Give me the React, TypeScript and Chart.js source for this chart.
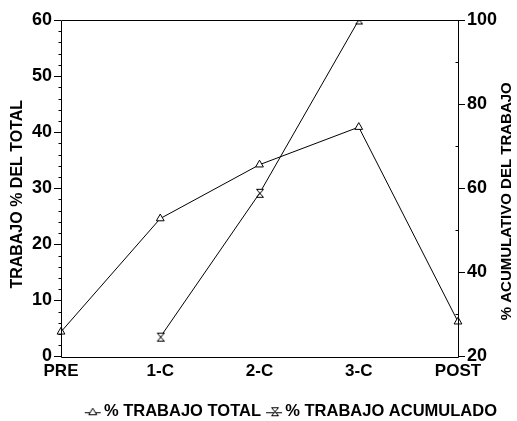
import React, { useEffect, useRef } from "react";
import { Chart, registerables } from "chart.js";

Chart.register(...registerables);

const categories = ["PRE", "1-C", "2-C", "3-C", "POST"];
const trabajoTotal = [4.4, 24.6, 34.2, 40.9, 6.2];
const trabajoAcumulado = [null, 24.6, 58.8, 100, null];
const seriesLabels = ["% TRABAJO TOTAL", "% TRABAJO ACUMULADO"];
const leftTitle = "TRABAJO % DEL TOTAL";
const rightTitle = "% ACUMULATIVO DEL TRABAJO";
const leftRange = { min: 0, max: 60, step: 10, minor: 2 };
const rightRange = { min: 20, max: 100, step: 20, minor: 10 };

const FONT = "'Liberation Sans', Arial, Helvetica, sans-serif";
const ICON_W = 24;
const ICON_X0 = 6;
const ICON_LEN = 16;

function makeHourglass(w: number, h: number, withLine: boolean) {
  const c = document.createElement("canvas");
  const W = withLine ? ICON_W : w + 2;
  const H = h + 2;
  c.width = W;
  c.height = H;
  const ctx = c.getContext("2d")!;
  ctx.strokeStyle = "#000";
  ctx.lineWidth = 1;
  const cx = withLine ? ICON_X0 + ICON_LEN / 2 : W / 2;
  if (withLine) {
    ctx.beginPath();
    ctx.moveTo(ICON_X0, Math.round(H / 2) + 0.5);
    ctx.lineTo(ICON_X0 + ICON_LEN, Math.round(H / 2) + 0.5);
    ctx.stroke();
  }
  const x0 = Math.round(cx - w / 2) + 0.5;
  const x1 = x0 + w;
  ctx.fillStyle = "#fff";
  ctx.beginPath();
  ctx.moveTo(x0, 1.5);
  ctx.lineTo(x1, 1.5);
  ctx.lineTo(x0, h + 0.5);
  ctx.lineTo(x1, h + 0.5);
  ctx.closePath();
  ctx.fill();
  ctx.stroke();
  return c;
}

function makeTriangleIcon(w: number, h: number) {
  const c = document.createElement("canvas");
  c.width = ICON_W;
  c.height = h + 2;
  const ctx = c.getContext("2d")!;
  ctx.strokeStyle = "#000";
  ctx.lineWidth = 1;
  const H = h + 2;
  ctx.beginPath();
  ctx.moveTo(ICON_X0, Math.round(H / 2) + 0.5);
  ctx.lineTo(ICON_X0 + ICON_LEN, Math.round(H / 2) + 0.5);
  ctx.stroke();
  const cx = ICON_X0 + ICON_LEN / 2;
  ctx.fillStyle = "#fff";
  ctx.beginPath();
  ctx.moveTo(cx, 1);
  ctx.lineTo(cx + w / 2, h + 0.5);
  ctx.lineTo(cx - w / 2, h + 0.5);
  ctx.closePath();
  ctx.fill();
  ctx.stroke();
  return c;
}

function drawVerticalTitle(ctx: any, text: string, x: number, y: number, size: number) {
  ctx.save();
  ctx.fillStyle = "#000";
  ctx.font = `bold ${size}px ${FONT}`;
  ctx.textAlign = "center";
  ctx.textBaseline = "middle";
  ctx.translate(x, y);
  ctx.rotate(-Math.PI / 2);
  ctx.fillText(text, 0, 0);
  ctx.restore();
}

const framePlugin = {
  id: "frameAndMinor",
  afterLayout(chart: any) {
    const lg = chart.legend;
    if (lg) {
      lg.left -= 14;
      lg.right -= 14;
      lg.top += 9;
      lg.bottom += 9;
    }
  },
  afterDraw(chart: any) {
    const { ctx, chartArea } = chart;
    const L = Math.round(chartArea.left) + 0.5;
    const R = Math.round(chartArea.right) + 0.5;
    const T = Math.round(chartArea.top) + 0.5;
    const B = Math.round(chartArea.bottom) + 0.5;
    ctx.save();
    ctx.strokeStyle = "#000";
    ctx.lineWidth = 1;
    ctx.beginPath();
    ctx.rect(L, T, R - L, B - T);
    ctx.stroke();
    const y = chart.scales.y;
    const y1 = chart.scales.y1;
    ctx.beginPath();
    for (let v = leftRange.min; v <= leftRange.max; v += leftRange.minor) {
      if (v % leftRange.step === 0) continue;
      const p = Math.round(y.getPixelForValue(v)) + 0.5;
      ctx.moveTo(L - 3, p);
      ctx.lineTo(L, p);
    }
    for (let v = rightRange.min; v <= rightRange.max; v += rightRange.minor) {
      if (v % rightRange.step === 0) continue;
      const p = Math.round(y1.getPixelForValue(v)) + 0.5;
      ctx.moveTo(R - 3, p);
      ctx.lineTo(R, p);
    }
    ctx.stroke();
    ctx.restore();
    const midY = (chartArea.top + chartArea.bottom) / 2;
    drawVerticalTitle(ctx, leftTitle, y.left + 18, midY + 6, 16);
    drawVerticalTitle(ctx, rightTitle, y1.right - 10, midY + 13, 15);
  },
};

export default function App() {
  const ref = useRef<HTMLCanvasElement | null>(null);
  useEffect(() => {
    document.body.style.margin = "0";
    const canvas = ref.current!;
    const hourglass = makeHourglass(7, 9, false);
    const legendIcons = [makeTriangleIcon(8, 7), makeHourglass(7, 9, true)];
    const chart = new Chart(canvas, {
      type: "line",
      data: {
        labels: categories,
        datasets: [
          {
            label: seriesLabels[0],
            data: trabajoTotal,
            yAxisID: "y",
            borderColor: "#000",
            borderWidth: 1,
            pointStyle: "triangle",
            pointRadius: 4.5,
            pointBackgroundColor: "#fff",
            pointBorderColor: "#000",
            pointBorderWidth: 1,
            tension: 0,
          },
          {
            label: seriesLabels[1],
            data: trabajoAcumulado,
            yAxisID: "y1",
            borderColor: "#000",
            borderWidth: 1,
            pointStyle: hourglass,
            pointRadius: 5,
            tension: 0,
          },
        ],
      },
      options: {
        responsive: false,
        animation: false,
        layout: { padding: { top: 20, right: 0, left: 0, bottom: 0 } },
        plugins: {
          tooltip: { enabled: false },
          legend: {
            position: "bottom",
            align: "end",
            labels: {
              usePointStyle: true,
              pointStyleWidth: 10,
              padding: 6,
              color: "#000",
              font: { family: FONT, size: 16.5, weight: "bold" },
              generateLabels: (ch: any) =>
                ch.data.datasets.map((ds: any, i: number) => ({
                  text: ds.label,
                  pointStyle: legendIcons[i],
                  datasetIndex: i,
                  hidden: false,
                  lineWidth: 0,
                  strokeStyle: "transparent",
                  fillStyle: "transparent",
                  fontColor: "#000",
                })),
            },
          },
        },
        scales: {
          x: {
            type: "category",
            offset: false,
            grid: { display: false, drawTicks: false, tickLength: 0 },
            border: { display: false },
            ticks: {
              color: "#000",
              padding: 5,
              maxRotation: 0,
              autoSkip: false,
              font: { family: FONT, size: 17, weight: "bold" },
            },
            afterFit: (s: any) => {
              s.height = 32;
            },
          },
          y: {
            position: "left",
            min: leftRange.min,
            max: leftRange.max,
            grid: { drawOnChartArea: false, tickLength: 7, color: "#000" },
            border: { display: false },
            ticks: {
              stepSize: leftRange.step,
              color: "#000",
              padding: 2,
              font: { family: FONT, size: 18, weight: "bold" },
            },
            title: { display: false, text: leftTitle },
            afterFit: (s: any) => {
              s.width = 61;
            },
          },
          y1: {
            position: "right",
            min: rightRange.min,
            max: rightRange.max,
            grid: { drawOnChartArea: false, tickLength: 7, color: "#000" },
            border: { display: false },
            ticks: {
              stepSize: rightRange.step,
              color: "#000",
              padding: 2,
              font: { family: FONT, size: 18, weight: "bold" },
            },
            title: { display: false, text: rightTitle },
            afterFit: (s: any) => {
              s.width = 59;
            },
          },
        },
      },
      plugins: [framePlugin],
    } as any);
    return () => chart.destroy();
  }, []);
  return (
    <div style={{ width: 517, height: 421 }}>
      <canvas ref={ref} width={517} height={421} />
    </div>
  );
}
